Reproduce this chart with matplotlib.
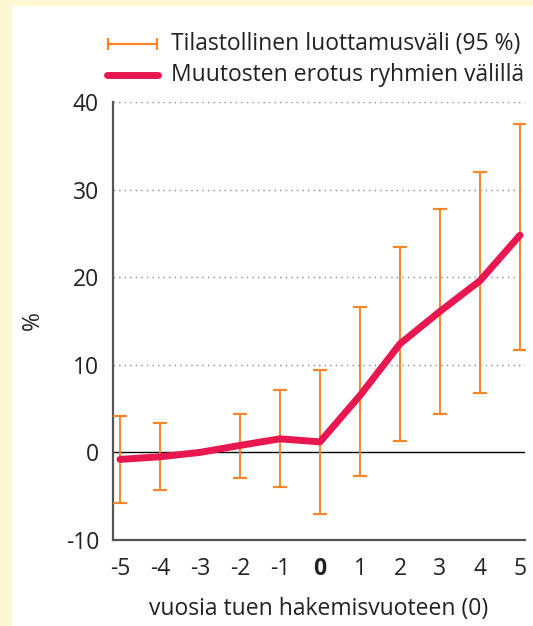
import matplotlib.pyplot as plt
from matplotlib.lines import Line2D
from matplotlib.patches import Rectangle

plt.rcParams['font.family'] = ['Open Sans', 'DejaVu Sans']
plt.rcParams['axes.unicode_minus'] = False

# data
years = [-5, -4, -3, -2, -1, 0, 1, 2, 3, 4, 5]
diff = [-0.8, -0.5, 0.0, 0.8, 1.55, 1.2, 6.5, 12.4, 16.1, 19.6, 24.8]
ci_years = [-5, -4, -2, -1, 0, 1, 2, 3, 4, 5]
ci_mid = [-0.8, -0.5, 0.8, 1.55, 1.2, 6.5, 12.4, 16.1, 19.6, 24.8]
ci_low = [-5.8, -4.3, -2.9, -3.9, -7.0, -2.7, 1.25, 4.4, 6.8, 11.7]
ci_high = [4.1, 3.3, 4.35, 7.1, 9.4, 16.6, 23.4, 27.8, 32.0, 37.5]
xticklabels = ['-5', '-4', '-3', '-2', '-1', '0', '1', '2', '3', '4', '5']
yticks = [-10, 0, 10, 20, 30, 40]
legend_labels = ['Tilastollinen luottamusväli (95 %)', 'Muutosten erotus ryhmien välillä']

orange = '#f7862a'
red = '#e8174f'
txt = '#222222'
fs = 16.5

W, H = 533, 626
fig = plt.figure(figsize=(5.33, 6.26), dpi=100, facecolor='#fef8d2')
fig.patches.append(Rectangle((12 / W, 0), 1, 1 - 6 / H, transform=fig.transFigure,
                             facecolor='white', edgecolor='none', zorder=-5))

ax = fig.add_axes([113 / W, 1 - 540 / H, 412 / W, 438 / H])
ax.set_zorder(2)
ax.set_facecolor('none')

err_lo = [m - l for m, l in zip(ci_mid, ci_low)]
err_hi = [h - m for m, h in zip(ci_mid, ci_high)]
ax.errorbar(ci_years, ci_mid, yerr=[err_lo, err_hi], fmt='none', ecolor=orange,
            elinewidth=1.4, capsize=5, capthick=1.6, zorder=3)
ax.plot(years, diff, color=red, lw=5, solid_capstyle='round', solid_joinstyle='round', zorder=4)

ax.axhline(0, color='black', lw=1, zorder=2)
for y in [10, 20, 30, 40]:
    ax.axhline(y, color='#888888', lw=1, ls=(0, (1, 3)), zorder=1)

ax.set_xlim(-5.175, 5.125)
ax.set_ylim(-10, 40)
ax.set_xticks(years)
ax.set_xticklabels(xticklabels)
ax.set_yticks(yticks)
ax.tick_params(length=0, labelsize=fs, colors=txt)
ax.tick_params(axis='y', pad=10)
ax.tick_params(axis='x', pad=12)
ax.get_xticklabels()[5].set_fontweight('bold')
for s in ['top', 'right']:
    ax.spines[s].set_visible(False)
for s in ['left', 'bottom']:
    ax.spines[s].set_color('#555555')
    ax.spines[s].set_linewidth(1.6)

ax.set_ylabel('%', fontsize=fs, color=txt)
ax.yaxis.set_label_coords(-68 / 412, 0.5)
ax.set_xlabel('vuosia tuen hakemisvuoteen (0)', fontsize=fs, color=txt, labelpad=12)

# legend drawn by hand in figure pixels
fig.add_artist(Line2D([108 / W, 157 / W], [1 - 44 / H, 1 - 44 / H], color=orange, lw=1.6,
                      marker='|', markersize=9, markeredgewidth=1.6))
fig.add_artist(Line2D([107 / W, 158 / W], [1 - 75 / H, 1 - 75 / H], color=red, lw=5,
                      solid_capstyle='round'))
fig.text(171 / W, 1 - 44 / H, legend_labels[0], fontsize=fs, color=txt, va='center')
fig.text(171 / W, 1 - 75 / H, legend_labels[1], fontsize=fs, color=txt, va='center')

fig.savefig('out.png', dpi=100, facecolor=fig.get_facecolor())
